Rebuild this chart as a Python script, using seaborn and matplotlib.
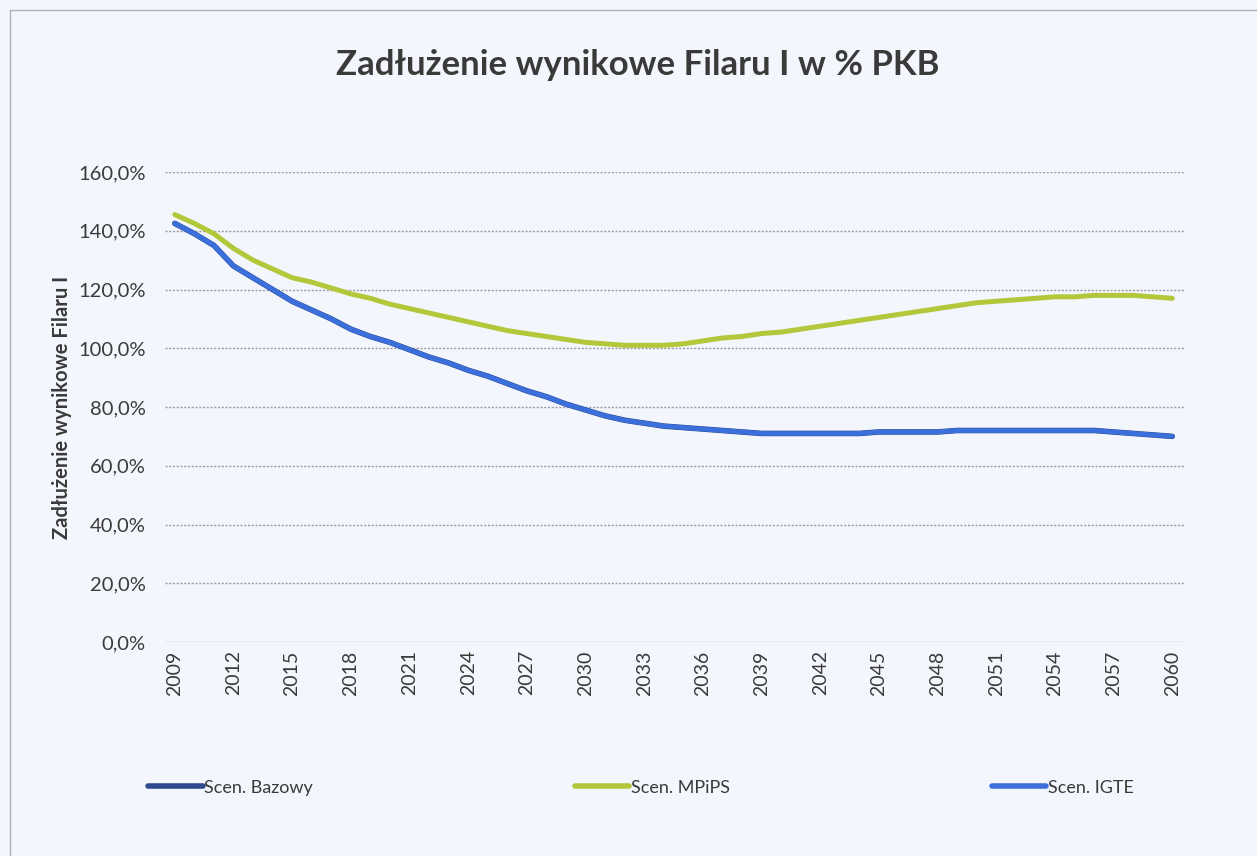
import matplotlib
matplotlib.use("Agg")
import matplotlib.pyplot as plt
from matplotlib.lines import Line2D
from matplotlib.ticker import FuncFormatter
import seaborn as sns
import pandas as pd

years = list(range(2009, 2061))

bazowy = [142.5, 139, 135, 128, 124, 120, 116, 113, 110, 106.5,
          104, 102, 99.5, 97, 95, 92.5, 90.5, 88, 85.5, 83.5,
          81, 79, 77, 75.5, 74.5, 73.5, 73, 72.5, 72, 71.5,
          71, 71, 71, 71, 71, 71, 71.5, 71.5, 71.5, 71.5,
          72, 72, 72, 72, 72, 72, 72, 72, 71.5, 71,
          70.5, 70]

mpips = [145.5, 142.5, 139, 134, 130, 127, 124, 122.5, 120.5, 118.5,
         117, 115, 113.5, 112, 110.5, 109, 107.5, 106, 105, 104,
         103, 102, 101.5, 101, 101, 101, 101.5, 102.5, 103.5, 104,
         105, 105.5, 106.5, 107.5, 108.5, 109.5, 110.5, 111.5, 112.5, 113.5,
         114.5, 115.5, 116, 116.5, 117, 117.5, 117.5, 118, 118, 118,
         117.5, 117]

igte = [142.5, 139, 135, 128, 124, 120, 116, 113, 110, 106.5,
        104, 102, 99.5, 97, 95, 92.5, 90.5, 88, 85.5, 83.5,
        81, 79, 77, 75.5, 74.5, 73.5, 73, 72.5, 72, 71.5,
        71, 71, 71, 71, 71, 71, 71.5, 71.5, 71.5, 71.5,
        72, 72, 72, 72, 72, 72, 72, 72, 71.5, 71,
        70.5, 70]

series_names = ["Scen. Bazowy", "Scen. MPiPS", "Scen. IGTE"]
colors = {"Scen. Bazowy": "#2d4a8e", "Scen. MPiPS": "#b2c83a", "Scen. IGTE": "#3a6fdc"}
widths = {"Scen. Bazowy": 4.0, "Scen. MPiPS": 3.6, "Scen. IGTE": 3.4}

df = pd.DataFrame({
    "year": years * 3,
    "value": bazowy + mpips + igte,
    "scenario": [series_names[0]] * len(years) + [series_names[1]] * len(years)
                + [series_names[2]] * len(years),
})

bg = "#f3f6fc"
text_color = "#3a3a3a"

sns.set_theme(style="white")
plt.rcParams["font.family"] = ["Lato", "DejaVu Sans"]

fig = plt.figure(figsize=(12.57, 8.56), dpi=100, facecolor=bg)
ax = fig.add_axes([165 / 1257, 1 - 642 / 856, (1185 - 165) / 1257, (642 - 172) / 856])
ax.set_facecolor(bg)

for name in series_names:
    sub = df[df["scenario"] == name]
    sns.lineplot(data=sub, x="year", y="value", ax=ax, color=colors[name],
                 linewidth=widths[name], label=name, legend=False)

ax.set_xlim(2008.5, 2060.65)
ax.set_ylim(0, 160)
ax.set_yticks(range(0, 161, 20))
ax.yaxis.set_major_formatter(FuncFormatter(lambda v, p: f"{v:.1f}%".replace(".", ",")))
ax.set_xticks(range(2009, 2061, 3))
ax.tick_params(axis="x", labelrotation=90, labelsize=14, colors=text_color, pad=6, length=0)
ax.tick_params(axis="y", labelsize=14.5, colors=text_color, pad=14, length=0)
ax.grid(axis="y", color="#9a9aa8", linestyle=(0, (1.5, 1.2)), linewidth=1)
for s in ax.spines.values():
    s.set_visible(False)

ax.set_xlabel("")
ax.set_ylabel("Zadłużenie wynikowe Filaru I", fontsize=14.5, color=text_color,
              fontweight="bold", labelpad=4)

fig.text(0.507, 0.924, "Zadłużenie wynikowe Filaru I w % PKB", ha="center", va="center",
         fontsize=25, fontweight="bold", color=text_color)

handles = [Line2D([], [], color=colors[n], linewidth=4) for n in series_names]
fig.legend(handles, series_names, loc="center", bbox_to_anchor=(0.51, 0.08), ncol=3,
           frameon=False, fontsize=13, handlelength=3.0, handletextpad=0.1,
           columnspacing=14.5, labelcolor=text_color)

# outer frame of the chart area
fig.add_artist(Line2D([10 / 1257, 1.0], [1 - 10 / 856, 1 - 10 / 856],
                      transform=fig.transFigure, color="#b0b0b8", linewidth=1))
fig.add_artist(Line2D([10 / 1257, 10 / 1257], [0, 1 - 10 / 856],
                      transform=fig.transFigure, color="#b0b0b8", linewidth=1))

fig.savefig("out.png", dpi=100, facecolor=bg)
